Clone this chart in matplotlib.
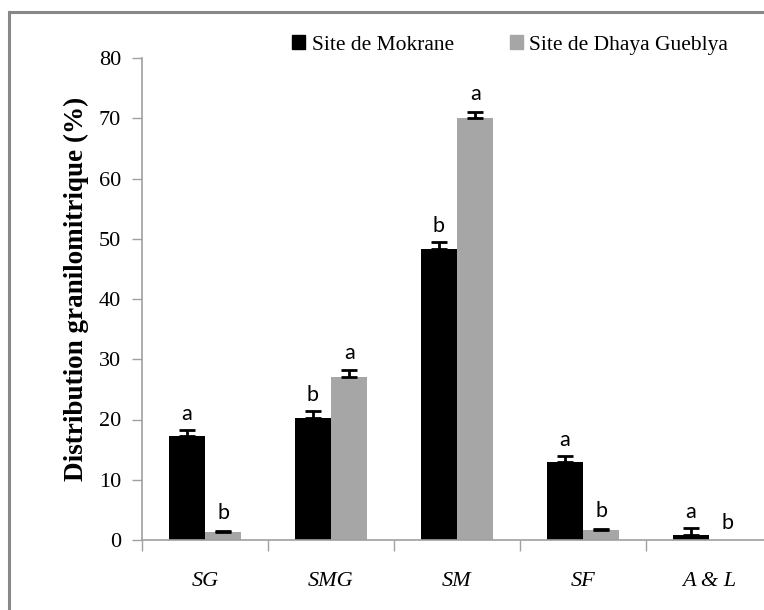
import matplotlib

matplotlib.use("Agg")
import matplotlib.pyplot as plt
import numpy as np
from matplotlib.patches import Rectangle

# data
CATEGORIES = ["SG", "SMG", "SM", "SF", "A & L"]
MOKRANE = [17.2, 20.2, 48.3, 12.9, 0.8]
MOKRANE_ERR = [1.0, 1.2, 1.1, 1.0, 1.2]
DHAYA = [1.3, 27.0, 70.1, 1.7, 0.0]
DHAYA_ERR = [0.2, 1.2, 1.0, 0.2, 0.0]
MOKRANE_LETTERS = ["a", "b", "b", "a", "a"]
DHAYA_LETTERS = ["b", "a", "a", "b", "b"]
SERIES_NAMES = ["Site de Mokrane", "Site de Dhaya Gueblya"]
YTICKS = [0, 10, 20, 30, 40, 50, 60, 70, 80]

BLACK = "#000000"
GREY = "#A6A6A6"
AXIS = "#A0A0A0"
SERIF = ["Liberation Serif", "DejaVu Serif"]
SANS = ["Lato", "DejaVu Sans"]

W, H = 764, 610
fig = plt.figure(figsize=(W / 100, H / 100), dpi=100)

# outer frame, cut off on the right and bottom like the reference
fig.patches.append(
    Rectangle((9 / W, -0.1), 1.5, 1 - 12 / H + 0.1, transform=fig.transFigure,
              fill=False, edgecolor="#888888", linewidth=2.2)
)

ax = fig.add_axes([142 / W, 1 - 540 / H, 630 / W, 482 / H])
x = np.arange(len(CATEGORIES)) + 0.5
width = 0.288

ax.bar(x - width, MOKRANE, width, align="edge", color=BLACK, zorder=2)
ax.bar(x, DHAYA, width, align="edge", color=GREY, zorder=2)
ax.errorbar(x - width / 2, MOKRANE, yerr=[np.zeros(5), MOKRANE_ERR], fmt="none",
            ecolor=BLACK, elinewidth=2, capsize=6, capthick=2, zorder=3)
dhaya_on = [i for i, v in enumerate(DHAYA) if v > 0]
ax.errorbar(x[dhaya_on] + width / 2, np.array(DHAYA)[dhaya_on],
            yerr=[np.zeros(len(dhaya_on)), np.array(DHAYA_ERR)[dhaya_on]],
            fmt="none", ecolor=BLACK, elinewidth=2, capsize=6, capthick=2, zorder=3)

for i in range(len(CATEGORIES)):
    ax.text(x[i] - width / 2, MOKRANE[i] + MOKRANE_ERR[i] + 2.7, MOKRANE_LETTERS[i],
            ha="center", va="center", fontsize=15.5, family=SANS)
    ax.text(x[i] + width / 2, DHAYA[i] + DHAYA_ERR[i] + 2.9, DHAYA_LETTERS[i],
            ha="center", va="center", fontsize=15.5, family=SANS)

ax.set_xlim(0, 5)
ax.set_ylim(0, 80)
ax.set_yticks(YTICKS)
ax.set_yticklabels([str(t) for t in YTICKS], family=SERIF, fontsize=16)
ax.set_xticks(np.arange(0, 6))
ax.set_xticklabels([])
ax.set_xticks(x, minor=True)
ax.set_xticklabels(CATEGORIES, minor=True, family=SERIF, style="italic", fontsize=16)
ax.tick_params(axis="x", which="minor", length=0, pad=23)
ax.tick_params(axis="x", which="major", length=8, color=AXIS, width=1)
ax.tick_params(axis="y", length=7, color=AXIS, width=1, pad=8)

for side in ("top", "right"):
    ax.spines[side].set_visible(False)
for side in ("left", "bottom"):
    ax.spines[side].set_color(AXIS)
    ax.spines[side].set_linewidth(1.2)
ax.spines["bottom"].set_zorder(4)

ax.set_ylabel("Distribution granilomitrique (%)", family=SERIF, fontsize=19.5,
              fontweight="bold", labelpad=7, y=0.52)

handles = [Rectangle((0, 0), 1, 1, color=BLACK), Rectangle((0, 0), 1, 1, color=GREY)]
fig.legend(handles, SERIES_NAMES, loc="center", bbox_to_anchor=(510 / W, 1 - 45 / H),
           ncol=2, frameon=False, prop={"family": SERIF, "size": 15.5},
           handlelength=0.6, handleheight=0.6, handletextpad=0.3, columnspacing=2.6)

fig.savefig("out.png", dpi=100)
